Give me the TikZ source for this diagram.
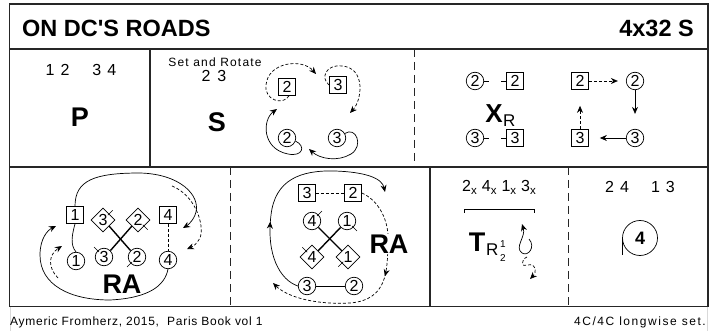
\documentclass[tikz,border=0pt]{standalone}
\usepackage{fontspec}
\setmainfont{Liberation Sans}
\newfontfamily\titlefont{Liberation Sans}[Ligatures=TeXOff]
\usetikzlibrary{shapes.geometric,arrows.meta,calc,decorations.markings}
\begin{document}
\begin{tikzpicture}[x=1pt,y=1pt,
  every node/.style={inner sep=0pt},
  frameline/.style={line width=1.1pt, draw=black!85},
  dline/.style={line width=1pt, draw=black!85, dash pattern=on 8pt off 5pt},
  cir/.style={circle, draw, line width=0.7pt, minimum size=17.5pt, font=\fontsize{16}{16}\selectfont},
  box/.style={rectangle, draw, line width=0.7pt, minimum size=17pt, font=\fontsize{16}{16}\selectfont},
  dia/.style={diamond, draw, line width=0.7pt, minimum size=24pt, font=\fontsize{16}{16}\selectfont},
  lnk/.style={line width=0.7pt},
  dlnk/.style={line width=0.7pt, dash pattern=on 3pt off 2pt},
  arr/.style={lnk, -{Stealth[length=7pt,width=6pt]}},
  darr/.style={dlnk, -{Stealth[length=7pt,width=6pt]}},
  cross/.style={line width=1.4pt},
  tk/.style={line width=0.6pt},
  big/.style={font=\fontsize{27}{27}\selectfont\bfseries},
  num/.style={font=\fontsize{16}{16}\selectfont},
  midarr/.style={postaction={decorate, decoration={markings, mark=at position #1 with {\arrow{Stealth[length=7pt,width=6pt]}}}}},
]
\useasboundingbox (0,0) rectangle (715,-331);
\fill[white] (0,0) rectangle (715,-331);
% frame
\draw[black!15, line width=0.6pt] (10,-306) -- (10,-331) (707,-306) -- (707,-331);
\draw[frameline] (9.5,-4) rectangle (708,-306.5);
\draw[frameline] (9.5,-49) -- (708,-49);
\draw[frameline] (9.5,-167) -- (708,-167);
\draw[frameline] (150,-49) -- (150,-167);
\draw[dline] (414,-49) -- (414,-167);
\draw[dline] (230,-167) -- (230,-306.5);
\draw[frameline] (430,-167) -- (430,-306.5);
\draw[dline] (568,-167) -- (568,-306.5);
% title
\node[anchor=west, font=\titlefont\fontsize{23.5}{24}\selectfont\bfseries] (title) at (22,-28.5) {ON DC'S ROADS};
\node[anchor=east, font=\titlefont\fontsize{23.5}{24}\selectfont\bfseries] (form) at (694,-28.5) {4x32 S};
% P cell
\node[num] (p1) at (81,-70) {1\hspace{6pt}2\hspace{23pt}3\hspace{6pt}4};
\node[big] (P) at (80,-117) {P};
% S cell
\node[font=\fontsize{12}{12}\selectfont\addfontfeatures{LetterSpace=10}] (setrot) at (215,-62) {Set and Rotate};
\node[num] (s23) at (214,-76) {2\hspace{7pt}3};
\node[big] (S) at (217,-122) {S};
\node[box] (sb2) at (287,-87) {2};
\node[box] (sb3) at (338,-85) {3};
\node[cir] (sc2) at (287,-138) {2};
\node[cir] (sc3) at (337,-138) {3};
\coordinate (sa1) at (316,-74);
\coordinate (sa2) at (350,-113);
\coordinate (sa3) at (277,-109);
\coordinate (sa4) at (309,-149);
\draw[darr] ($(sb2.south)+(2,0)$) .. controls (283,-106) and (264,-100) .. (266,-85) .. controls (268,-62) and (302,-58) .. (sa1);
\draw[darr] (sb3.west) .. controls (320,-78) and (326,-64) .. (342,-66) .. controls (366,-68) and (362,-100) .. (sa2);
\draw[arr] (sc2.-20) .. controls (306,-146) and (303,-157) .. (288,-154) .. controls (262,-149) and (262,-120) .. (sa3);
\draw[arr] (sc3.30) .. controls (356,-126) and (364,-146) .. (351,-154) .. controls (338,-162) and (320,-159) .. (sa4);
% XR cell
\node[cir] (xc2) at (475,-81) {2};
\node[box] (xb2) at (515,-81) {2};
\node[cir] (xc3) at (475,-138) {3};
\node[box] (xb3) at (515,-138) {3};
\draw[tk] (xc2.east) -- ++(5,0);
\draw[tk] (xb2.west) -- ++(-5,0);
\draw[tk] (xc3.east) -- ++(5,0);
\draw[tk] (xb3.west) -- ++(-5,0);
\node[font=\fontsize{26}{26}\selectfont\bfseries] (X) at (494,-114) {X};
\node[font=\fontsize{17}{17}\selectfont, anchor=west] (XRs) at (503,-121) {R};
\node[box] (yb2) at (580,-81) {2};
\node[cir] (yc2) at (635,-81) {2};
\node[cir] (yc3) at (635,-138) {3};
\node[box] (yb3) at (580,-138) {3};
\draw[darr, shorten >=8pt] (yb2) -- (yc2);
\draw[arr, shorten >=15pt] (yc2) -- (yc3);
\draw[arr, shorten >=11pt] (yc3) -- (yb3);
\draw[darr, shorten >=16pt] (yb3) -- (yb2);
% RA cell 1
\node[box] (b1) at (75,-215) {1};
\node[box] (b4) at (168,-215) {4};
\node[dia] (d3) at (103,-220) {3};
\node[dia] (d2) at (138,-220) {2};
\node[cir] (c1) at (76,-261) {1};
\node[cir] (c3) at (104,-257) {3};
\node[cir] (c2) at (137,-257) {2};
\node[cir] (c4) at (168,-260) {4};
\draw[cross] (d3.-45) -- (c2.135);
\draw[cross] (d2.-135) -- (c3.45);
\draw[tk] ($(d3.45)+(225:2)$) -- ++(45:7);
\draw[tk] ($(d2.-45)+(135:2)$) -- ++(-45:7);
\draw[tk] ($(c3.135)+(-45:2)$) -- ++(135:7);
\draw[tk] ($(c2.-135)+(45:2)$) -- ++(-135:7);
\draw[lnk] (b1.south) .. controls (72,-235) and (70,-245) .. (c1.north);
\draw[dlnk] (b4.south) -- (c4.north);
\coordinate (r1a) at (183,-228);
\coordinate (r1b) at (172,-186);
\coordinate (r1c) at (187,-249);
\coordinate (r1d) at (56,-226);
\coordinate (r1e) at (58,-278);
\coordinate (r1f) at (62,-246);
\draw[arr] (b1.north) .. controls (75,-180) and (95,-173) .. (140,-173) .. controls (180,-174) and (200,-195) .. (196,-212) .. controls (194,-220) and (188,-225) .. (r1a);
\draw[darr] (r1b) .. controls (195,-195) and (205,-225) .. (200,-238) .. controls (197,-244) and (192,-247) .. (r1c);
\draw[arr] (c4.south) .. controls (165,-285) and (150,-298) .. (110,-300) .. controls (70,-300) and (40,-285) .. (40,-255) .. controls (40,-238) and (48,-230) .. (r1d);
\draw[darr] (r1e) .. controls (48,-268) and (48,-255) .. (r1f);
\node[big] (ra1) at (122,-284) {RA};
% RA cell 2
\node[box] (e3) at (307,-193) {3};
\node[box] (e2) at (353,-193) {2};
\node[cir] (f4) at (312,-221) {4};
\node[cir] (f1) at (347,-221) {1};
\node[dia] (g4) at (312,-257) {4};
\node[dia] (g1) at (348,-257) {1};
\node[cir] (h3) at (307,-286) {3};
\node[cir] (h2) at (354,-286) {2};
\draw[dlnk] (e3) -- (e2);
\draw[lnk] (h3) -- (h2);
\draw[cross] (f4.-45) -- (g1.135);
\draw[cross] (f1.-135) -- (g4.45);
\draw[tk] ($(f4.45)+(225:2)$) -- ++(45:7);
\draw[tk] ($(f1.-45)+(135:2)$) -- ++(-45:7);
\draw[tk] ($(g4.135)+(-45:2)$) -- ++(135:7);
\draw[tk] ($(g1.-135)+(45:2)$) -- ++(-135:7);
\coordinate (r2a) at (385,-192);
\coordinate (r2b) at (273,-283);
\draw[arr, midarr=0.33] (h3.west) .. controls (280,-280) and (266,-255) .. (271,-215) .. controls (275,-180) and (300,-170) .. (335,-171) .. controls (365,-172) and (382,-178) .. (r2a);
\draw[darr, midarr=0.42] (e2.east) .. controls (378,-200) and (390,-220) .. (388,-245) .. controls (387,-270) and (388,-300) .. (350,-303) .. controls (310,-305) and (285,-295) .. (r2b);
\node[big, fill=white, inner sep=1pt] (ra2) at (389,-244) {RA};
% T cell
\node[num] (tx) at (499,-187) {2\raisebox{-3pt}{\fontsize{11.5}{11.5}\selectfont x}\hspace{5pt}4\raisebox{-3pt}{\fontsize{11.5}{11.5}\selectfont x}\hspace{5pt}1\raisebox{-3pt}{\fontsize{11.5}{11.5}\selectfont x}\hspace{5pt}3\raisebox{-3pt}{\fontsize{11.5}{11.5}\selectfont x}};
\draw[lnk] (464,-213) -- (464,-209) -- (534,-209) -- (534,-213);
\node[big] (T) at (477,-242) {T};
\node[font=\fontsize{17}{17}\selectfont, anchor=west] (TR) at (486,-250) {R};
\node[font=\fontsize{10}{10}\selectfont] (T1) at (503,-244) {1};
\node[font=\fontsize{10}{10}\selectfont] (T2) at (503,-258) {2};
\coordinate (l1s) at (529,-239);
\coordinate (l1e) at (522,-224);
\coordinate (l2s) at (527,-257);
\coordinate (l2e) at (530,-279);
\draw[arr] (l1s) .. controls (536,-247) and (528,-257) .. (522,-253) .. controls (514,-247) and (526,-237) .. (l1e);
\draw[darr] (l2s) .. controls (520,-260) and (522,-268) .. (527,-265) .. controls (538,-263) and (536,-273) .. (l2e);
% last cell
\node[num] (t4) at (640,-187) {2\hspace{6pt}4\hspace{22pt}1\hspace{6pt}3};
\node[circle, draw, line width=0.7pt, minimum size=35pt, font=\fontsize{18}{18}\selectfont\bfseries] (cc4) at (640,-238) {4};
\draw[lnk] (cc4.west) -- ++(0,-17);
% footer
\node[anchor=west, font=\fontsize{12}{12}\selectfont\addfontfeatures{LetterSpace=6}] (auth) at (10,-322) {Aymeric Fromherz, 2015,\ \ Paris Book vol 1};
\node[anchor=east, font=\fontsize{12}{12}\selectfont\addfontfeatures{LetterSpace=13}] (fmt) at (706,-322) {4C/4C longwise set.};
\end{tikzpicture}
\end{document}
